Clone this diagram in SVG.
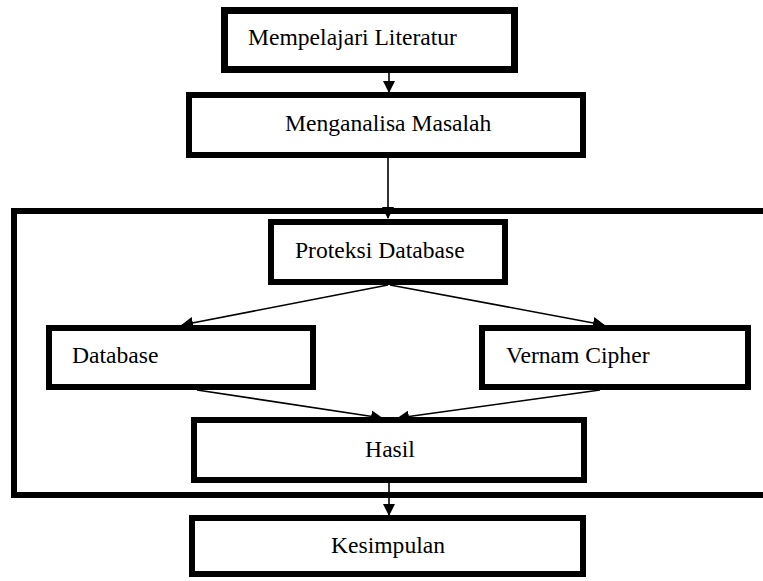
<svg xmlns="http://www.w3.org/2000/svg" width="763" height="581" viewBox="0 0 763 581">
<style>
.box{fill:#fff;stroke:#000;stroke-width:6}
.frame{fill:none;stroke:#000;stroke-width:6}
.lbl{font-size:23.6px;fill:#000}
.conn{stroke:#000;stroke-width:1.6;fill:none;marker-end:url(#ah)}
</style>
<defs>
<marker id="ah" markerUnits="userSpaceOnUse" markerWidth="12" markerHeight="12" refX="11" refY="6" orient="auto">
<path d="M0,0 L12,6 L0,12 z" fill="#000"/>
</marker>
</defs>
<rect width="763" height="581" fill="#fff"/>
<g id="container"><rect class="frame" x="14" y="211" width="760" height="284"/></g>
<g font-family="Liberation Serif, Times New Roman, serif">
<g id="n1"><rect class="box" x="224.5" y="10.5" width="290" height="59" style="stroke-width:7"/><text class="lbl" x="248" y="45">Mempelajari Literatur</text></g>
<g id="n2"><rect class="box" x="189" y="95" width="394" height="60"/><text class="lbl" x="285" y="131">Menganalisa Masalah</text></g>
<g id="n3"><rect class="box" x="271" y="222" width="234" height="60"/><text class="lbl" x="295" y="258">Proteksi Database</text></g>
<g id="n4"><rect class="box" x="49" y="328" width="264" height="59"/><text class="lbl" x="72" y="363">Database</text></g>
<g id="n5"><rect class="box" x="482" y="328" width="266" height="59"/><text class="lbl" x="506" y="363">Vernam Cipher</text></g>
<g id="n6"><rect class="box" x="194" y="420" width="390" height="60"/><text class="lbl" x="390" y="457" text-anchor="middle">Hasil</text></g>
<g id="n7"><rect class="box" x="192" y="518" width="391" height="56"/><text class="lbl" x="388" y="553" text-anchor="middle">Kesimpulan</text></g>
</g>
<g id="connectors">
<line class="conn" x1="389" y1="73" x2="389" y2="92"/>
<line class="conn" x1="388" y1="158" x2="388" y2="218"/>
<line class="conn" x1="388" y1="285" x2="182" y2="325"/>
<line class="conn" x1="390" y1="285" x2="604" y2="325"/>
<line class="conn" x1="197" y1="390" x2="382" y2="418"/>
<line class="conn" x1="600" y1="390" x2="398" y2="418"/>
<line class="conn" x1="389" y1="483" x2="389" y2="515"/>
</g>
</svg>
